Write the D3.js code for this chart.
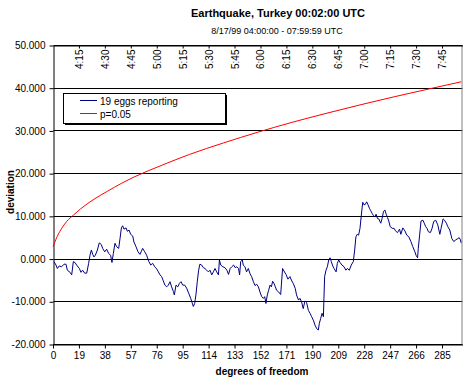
<!DOCTYPE html>
<html>
<head>
<meta charset="utf-8">
<script src="https://cdn.jsdelivr.net/npm/d3@7"></script>
<style>
  body { margin: 0; background: #fff; }
  svg { font-family: "Liberation Sans", Arial, sans-serif; }
</style>
</head>
<body>
<div id="chart"></div>
<script>
const eggDf = [0.7, 2.2, 3.2, 4.6, 6.3, 8.1, 9.5, 10.5, 12.5, 13.7, 14.9, 16.1, 17.3, 19.3, 20.5, 21.7, 23.2, 24.7, 26.1, 27.1,
    28.1, 29.1, 30.0, 31.0, 32.5, 33.9, 35.4, 36.4, 37.9, 39.3, 40.8, 42.2, 43.2, 44.2, 45.4, 46.6, 48.1, 49.1, 50.1, 51.0,
    52.0, 53.5, 54.5, 55.7, 56.9, 58.4, 59.3, 60.8, 62.3, 63.7, 65.7, 67.2, 68.6, 70.1, 71.6, 73.0, 74.5, 76.0, 77.2, 78.4,
    79.6, 80.8, 82.0, 83.3, 84.5, 85.7, 86.9, 88.2, 88.9, 90.1, 91.4, 92.6, 93.8, 95.0, 96.5, 97.9, 99.4, 100.9, 101.8, 102.8,
    103.8, 104.7, 105.7, 106.7, 107.6, 108.9, 110.1, 111.3, 112.6, 113.8, 115.0, 116.3, 117.5, 118.7, 119.9, 121.2, 121.9, 122.9, 124.4, 125.9,
    127.4, 128.6, 129.8, 131.0, 132.3, 133.5, 134.7, 135.9, 136.7, 137.5, 138.7, 139.4, 140.6, 141.8, 143.1, 144.3, 145.5, 146.8, 148.0, 149.2,
    150.5, 151.6, 152.9, 154.1, 155.1, 156.0, 157.0, 158.0, 159.0, 160.0, 160.9, 161.9, 162.9, 163.8, 165.3, 166.8, 167.3, 168.2, 169.2, 170.7,
    172.1, 173.6, 174.6, 176.0, 177.5, 178.4, 179.9, 180.9, 182.1, 183.3, 184.6, 185.8, 187.1, 188.3, 189.5, 190.7, 192.0, 193.2, 194.4, 195.1,
    196.1, 197.1, 198.1, 198.5, 199.0, 200.0, 201.0, 202.0, 203.0, 203.9, 204.9, 205.9, 207.4, 208.3, 209.3, 210.3, 211.7, 213.2, 214.6, 215.6,
    217.1, 218.5, 220.0, 221.0, 221.9, 222.9, 223.9, 224.9, 225.9, 226.9, 227.8, 228.8, 229.8, 230.8, 231.8, 232.8, 233.8, 234.7, 235.7, 236.7,
    237.7, 238.7, 240.1, 241.1, 242.1, 243.1, 244.1, 245.1, 246.0, 247.0, 248.5, 249.9, 250.9, 252.4, 253.9, 254.8, 256.3, 257.8, 259.2, 260.7,
    262.2, 263.6, 265.1, 266.1, 267.1, 267.6, 268.6, 269.6, 271.0, 272.0, 273.0, 274.0, 275.0, 276.5, 277.7, 278.9, 280.4, 281.9, 283.4, 284.3,
    285.8, 286.8, 288.2, 289.2, 290.7, 292.2, 293.6, 295.1, 296.6, 297.6, 298.5, 299.0];
const eggDev = [-0.6, -1.4, -2.2, -1.6, -1.8, -1.2, -1.2, -2.6, -3.1, -3.7, -0.6, -0.8, -1.4, -2.2, -3.1, -2.6, -3.3, -3.3, -1.0, 0.9,
    2.1, 1.1, 0.5, 0.9, 2.1, 3.8, 3.4, 2.5, 1.7, 2.3, 1.3, 0.9, -0.8, 1.3, 3.7, 2.9, 2.5, 4.8, 7.3, 7.8,
    7.0, 7.3, 6.5, 6.8, 5.8, 5.4, 4.0, 2.9, 1.7, 1.1, 2.5, 1.7, 0.9, -0.5, -1.4, -1.0, -1.8, -2.3, -3.0, -3.7,
    -4.1, -5.1, -6.1, -6.5, -6.1, -5.3, -6.5, -7.6, -8.4, -6.1, -6.5, -5.7, -5.3, -6.1, -6.1, -6.8, -8.0, -9.2, -10.1, -11.1,
    -10.4, -8.4, -5.3, -2.6, -1.2, -1.4, -2.0, -2.2, -2.6, -3.0, -2.6, -3.7, -3.0, -2.2, -3.0, -3.7, -0.2, -1.4, -1.8, -2.0,
    -2.6, -3.6, -2.2, -1.8, -1.4, -2.0, -1.8, -2.2, -3.7, -0.6, -0.2, -1.4, -1.8, -3.0, -2.2, -3.4, -4.1, -5.3, -6.2, -5.9,
    -6.5, -7.7, -8.8, -9.2, -8.8, -10.4, -8.4, -7.3, -6.1, -6.5, -5.2, -5.7, -6.5, -7.3, -7.7, -8.3, -6.1, -2.2, -2.8, -3.6,
    -4.7, -4.1, -4.9, -5.7, -6.9, -8.4, -9.6, -9.2, -10.0, -11.6, -9.8, -10.2, -12.0, -12.7, -13.5, -14.3, -15.5, -16.3, -16.6, -15.1,
    -13.9, -12.7, -13.5, -9.2, -4.1, -2.6, -1.8, -0.2, 0.3, -0.6, -1.6, -2.2, -3.0, -1.0, -0.2, -0.8, -1.4, -1.8, -2.6, -2.2,
    -2.6, -1.4, -0.6, 2.1, 5.2, 5.8, 5.6, 7.2, 10.3, 13.3, 12.7, 12.8, 13.4, 12.7, 11.9, 11.3, 10.7, 10.2, 9.9, 10.5,
    9.5, 9.4, 8.4, 9.5, 11.1, 11.5, 10.5, 9.7, 8.9, 7.6, 7.2, 7.2, 6.6, 6.2, 7.0, 5.8, 7.3, 6.6, 5.6, 5.2,
    4.1, 2.9, 1.7, 0.8, 0.3, 2.5, 5.6, 8.9, 9.1, 8.4, 7.6, 7.2, 6.4, 6.2, 7.2, 8.8, 9.1, 8.0, 5.8, 7.2,
    9.4, 9.1, 8.4, 7.6, 6.8, 4.8, 4.1, 4.5, 4.8, 5.0, 4.5, 3.8];

// p=0.05 threshold curve
const critDf = [0, 2, 4, 6, 10, 15, 20, 30, 40, 50, 60, 80, 100, 125, 150, 175, 200, 225, 250, 275, 299];
const critDev = [2.9, 4.5, 5.9, 7.0, 8.8, 10.3, 11.7, 14.0, 15.9, 17.7, 19.3, 22.0, 24.5, 27.2, 29.7, 32.0, 34.1, 36.1, 38.0, 39.8, 41.5];

const dfTicks = [0, 19, 38, 57, 76, 95, 114, 133, 152, 171, 190, 209, 228, 247, 266, 285];
const timeTicks = [19, 38, 57, 76, 95, 114, 133, 152, 171, 190, 209, 228, 247, 266, 285];
const timeLabels = ['4:15', '4:30', '4:45', '5:00', '5:15', '5:30', '5:45', '6:00', '6:15', '6:30', '6:45', '7:00', '7:15', '7:30', '7:45'];
const devTicks = [-20, -10, 0, 10, 20, 30, 40, 50];

const W = 467, H = 385;
const plot = { left: 53.5, right: 462.5, top: 45.5, bottom: 344.5 };

const svg = d3.select('#chart')
    .append('svg')
    .attr('width', W)
    .attr('height', H);

const x = d3.scaleLinear().domain([0, 300]).range([plot.left - 0.5, plot.right]);
const y = d3.scaleLinear().domain([-20, 50]).range([plot.bottom, plot.top]);

// Gridlines
svg.append('g')
    .selectAll('line')
    .data(devTicks)
    .join('line')
    .attr('x1', plot.left)
    .attr('x2', plot.right)
    .attr('y1', (d) => Math.round(y(d) - 0.5) + 0.5)
    .attr('y2', (d) => Math.round(y(d) - 0.5) + 0.5)
    .attr('stroke', '#000')
    .attr('stroke-width', 1);

// Right border
svg.append('line')
    .attr('x1', plot.right - 0.5).attr('x2', plot.right - 0.5)
    .attr('y1', plot.top).attr('y2', plot.bottom)
    .attr('stroke', '#808080');

// Left axis
const yAxis = d3.axisLeft(y)
    .tickValues(devTicks)
    .tickSize(4)
    .tickSizeOuter(0)
    .tickPadding(4)
    .tickFormat((d) => d.toFixed(3));

svg.append('g')
    .attr('transform', 'translate(' + plot.left + ',0)')
    .call(yAxis)
    .call((g) => g.selectAll('text').attr('font-size', 10).attr('fill', '#000').attr('font-family', null))
    .call((g) => g.selectAll('line, path').attr('stroke', '#000'));

// Bottom axis
const xAxis = d3.axisBottom(x)
    .tickValues(dfTicks)
    .tickSize(4)
    .tickSizeOuter(0)
    .tickPadding(3)
    .tickFormat(d3.format('d'));

svg.append('g')
    .attr('transform', 'translate(0,' + plot.bottom + ')')
    .call(xAxis)
    .call((g) => g.selectAll('text').attr('font-size', 10).attr('fill', '#000').attr('font-family', null))
    .call((g) => g.selectAll('line, path').attr('stroke', '#000'));

// Top time axis
const xTop = d3.axisBottom(x)
    .tickValues(timeTicks)
    .tickSize(3)
    .tickSizeOuter(0)
    .tickFormat((d, i) => timeLabels[i]);

svg.append('g')
    .attr('transform', 'translate(0,' + plot.top + ')')
    .call(xTop)
    .call((g) => g.selectAll('line, path').attr('stroke', '#000'))
    .call((g) => g.selectAll('text')
        .attr('font-size', 10)
        .attr('font-family', null)
        .attr('fill', '#000')
        .attr('text-anchor', 'end')
        .attr('transform', 'translate(0,4) rotate(-90)')
        .attr('x', 0)
        .attr('y', 0)
        .attr('dy', '0.35em'));

// Lines
const line = d3.line()
    .x((d) => x(d[0]))
    .y((d) => y(d[1]));

svg.append('path')
    .datum(critDf.map((d, i) => [d, critDev[i]]))
    .attr('d', line.curve(d3.curveMonotoneX))
    .attr('fill', 'none')
    .attr('stroke', '#ff0000')
    .attr('stroke-width', 1);

svg.append('path')
    .datum(eggDf.map((d, i) => [d, eggDev[i]]))
    .attr('d', line.curve(d3.curveLinear))
    .attr('fill', 'none')
    .attr('stroke', '#000080')
    .attr('stroke-width', 1);

// Legend
const legend = svg.append('g');
legend.append('rect')
    .attr('x', 65).attr('y', 95).attr('width', 162).attr('height', 30)
    .attr('fill', '#000');
legend.append('rect')
    .attr('x', 63.5).attr('y', 93.5).attr('width', 162).attr('height', 30)
    .attr('fill', '#fff').attr('stroke', '#000');

const legendItems = [
    { label: '19 eggs reporting', color: '#000080' },
    { label: 'p=0.05', color: '#ff0000' }
];

legendItems.forEach((item, i) => {
    const ly = 100.5 + i * 13;
    legend.append('line')
        .attr('x1', 80).attr('x2', 97)
        .attr('y1', ly).attr('y2', ly)
        .attr('stroke', item.color);
    legend.append('text')
        .attr('x', 100)
        .attr('y', ly + 4)
        .attr('font-size', 10)
        .text(item.label);
});

// Titles
svg.append('text')
    .attr('x', 278)
    .attr('y', 17)
    .attr('text-anchor', 'middle')
    .attr('font-size', 11)
    .attr('font-weight', 'bold')
    .text('Earthquake, Turkey 00:02:00 UTC');

svg.append('text')
    .attr('x', 277)
    .attr('y', 34)
    .attr('text-anchor', 'middle')
    .attr('font-size', 9)
    .text('8/17/99 04:00:00 - 07:59:59 UTC');

svg.append('text')
    .attr('x', 262)
    .attr('y', 375)
    .attr('text-anchor', 'middle')
    .attr('font-size', 10)
    .attr('font-weight', 'bold')
    .text('degrees of freedom');

svg.append('text')
    .attr('transform', 'translate(14,192) rotate(-90)')
    .attr('text-anchor', 'middle')
    .attr('font-size', 10)
    .attr('font-weight', 'bold')
    .text('deviation');
</script>
</body>
</html>
